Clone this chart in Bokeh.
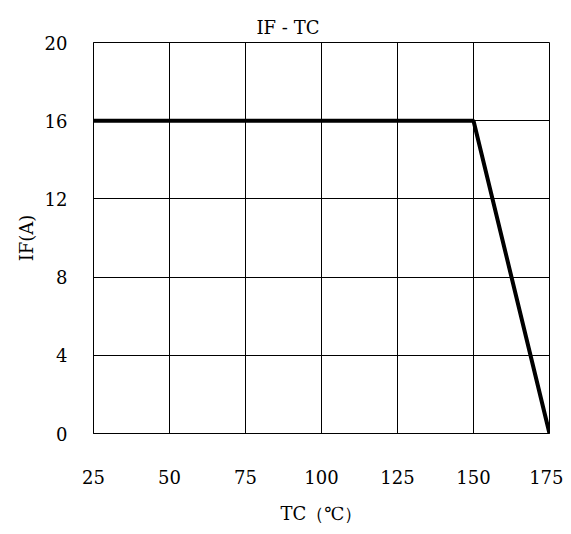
from bokeh.plotting import figure
from bokeh.embed import file_html
from bokeh.resources import INLINE
from bokeh.models import FixedTicker, Range1d

# Data: forward current derating vs case temperature
tc = [25, 150, 175]
if_a = [16, 16, 0]
x_ticks = [25, 50, 75, 100, 125, 150, 175]
y_ticks = [0, 4, 8, 12, 16, 20]

FONT = "DejaVu Serif"

p = figure(width=563, height=526, output_backend="svg", toolbar_location=None,
           x_range=Range1d(25, 175), y_range=Range1d(0, 20),
           min_border_left=93, min_border_right=14, min_border_top=42, min_border_bottom=90,
           title="IF - TC")

p.title.text_font = FONT
p.title.text_font_size = "18px"
p.title.text_font_style = "normal"
p.title.align = "left"
p.title.offset = 163
p.title.text_color = "black"

p.line(tc, if_a, line_width=4, line_color="black")

for ax in (p.xaxis[0], p.yaxis[0]):
    ax.major_label_text_font = FONT
    ax.major_label_text_font_size = "18px"
    ax.major_label_text_color = "black"
    ax.axis_label_text_font = FONT
    ax.axis_label_text_font_size = "18px"
    ax.axis_label_text_font_style = "normal"
    ax.axis_label_text_color = "black"
    ax.axis_line_color = "black"
    ax.major_tick_line_color = None
    ax.minor_tick_line_color = None

p.xaxis.ticker = FixedTicker(ticks=x_ticks)
p.yaxis.ticker = FixedTicker(ticks=y_ticks)
p.xaxis.axis_label = "TC（℃）"
p.yaxis.axis_label = "IF(A)"
p.xaxis.major_label_standoff = 30
p.xaxis.axis_label_standoff = 16
p.yaxis.major_label_standoff = 20

p.xgrid.grid_line_color = "black"
p.ygrid.grid_line_color = "black"
p.xgrid.grid_line_alpha = 1
p.ygrid.grid_line_alpha = 1
p.outline_line_color = "black"
p.outline_line_alpha = 1
p.background_fill_color = "white"
p.border_fill_color = "white"

open("out.html", "w").write(file_html(p, INLINE))
